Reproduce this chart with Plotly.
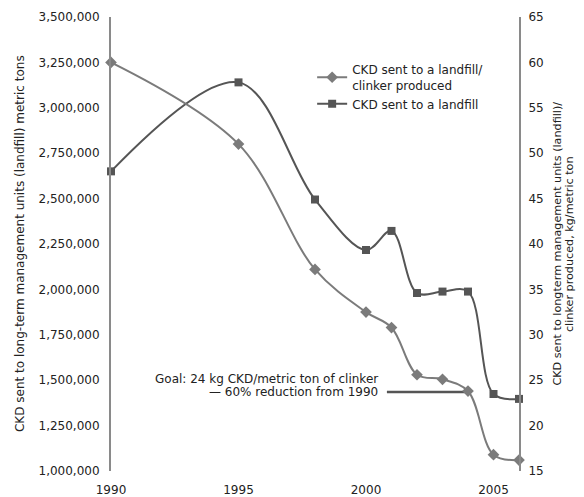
import plotly.graph_objects as go

years = [1990, 1995, 1998, 2000, 2001, 2002, 2003, 2004, 2005, 2006]
ckd_per_clinker = [60, 51, 37.2, 32.5, 30.8, 25.6, 25.1, 23.8, 16.8, 16.2]   # kg/metric ton (right axis)
ckd_landfill = [2650000, 3140000, 2495000, 2217000, 2322000, 1980000, 1988000, 1988000, 1424000, 1397000]  # metric tons (left axis)

left_ticks = [1000000, 1250000, 1500000, 1750000, 2000000, 2250000, 2500000, 2750000, 3000000, 3250000, 3500000]
right_ticks = [15, 20, 25, 30, 35, 40, 45, 50, 55, 60, 65]
x_ticks = [1990, 1995, 2000, 2005]

goal_line_value = 23.7
goal_year = 2004
goal_line_start = 2000.82
goal_text = ["Goal: 24 kg CKD/metric ton of clinker", "— 60% reduction from 1990"]

left_title = "CKD sent to long-term management units (landfill) metric tons"
right_title = ["CKD sent to longterm management units (landfill)/", "clinker produced, kg/metric ton"]

FONT = "DejaVu Sans, Verdana, sans-serif"
AX = "#8a8a8a"
C1 = "#7b7b7b"
C2 = "#555555"
TXT = "#222222"

fig = go.Figure()
fig.add_trace(go.Scatter(
    x=years, y=ckd_per_clinker, yaxis="y2", mode="lines+markers",
    name="CKD sent to a landfill/<br>clinker produced",
    line=dict(color=C1, width=2, shape="spline", smoothing=1.0),
    marker=dict(symbol="diamond", size=9, color=C1),
    cliponaxis=False,
))
fig.add_trace(go.Scatter(
    x=years, y=ckd_landfill, yaxis="y", mode="lines+markers",
    name="CKD sent to a landfill",
    line=dict(color=C2, width=2, shape="spline", smoothing=1.0),
    marker=dict(symbol="square", size=8, color=C2),
    cliponaxis=False,
))

fig.add_shape(type="line", xref="x", yref="y2", x0=goal_line_start, x1=goal_year,
              y0=goal_line_value, y1=goal_line_value, line=dict(color=C2, width=2.5), layer="below")
for i, t in enumerate(goal_text):
    fig.add_annotation(xref="x", yref="y2", x=goal_line_start - 0.27, y=goal_line_value,
                       text=t, showarrow=False, xanchor="right", yanchor="middle", align="right",
                       yshift=13 * (len(goal_text) - 1 - i),
                       font=dict(size=12, color=TXT, family=FONT))

fig.add_annotation(xref="paper", yref="paper", x=-0.223, y=0.5, xanchor="center", yanchor="middle",
                   text=left_title, textangle=-90, showarrow=False,
                   font=dict(size=12, color=TXT, family=FONT))
for i, t in enumerate(right_title):
    fig.add_annotation(xref="paper", yref="paper", x=1.092, y=0.5, xanchor="center", yanchor="middle",
                       xshift=12.5 * i, text=t, textangle=-90, showarrow=False,
                       font=dict(size=11.2, color=TXT, family=FONT))

# the page body adds an 8px margin, so the figure is sized and offset to compensate
fig.update_layout(
    width=576, height=489,
    margin=dict(l=103, r=65, t=9, b=26, autoexpand=False),
    paper_bgcolor="white", plot_bgcolor="white",
    font=dict(family=FONT, size=12, color=TXT),
    showlegend=True,
    legend=dict(x=0.493, y=0.916, xanchor="left", yanchor="top", bgcolor="rgba(0,0,0,0)",
                font=dict(size=12, color=TXT, family=FONT), tracegroupgap=4, itemwidth=30),
    xaxis=dict(range=[1990, 2006], tickvals=x_ticks, ticktext=[str(v) for v in x_ticks],
               showgrid=False, zeroline=False, showline=False, automargin=False,
               ticks="outside", ticklen=8, tickcolor="rgba(0,0,0,0)"),
    yaxis=dict(range=[1000000, 3500000], tickvals=left_ticks,
               ticktext=[f"{v:,}" for v in left_ticks], automargin=False,
               showgrid=False, zeroline=False, showline=True, linecolor=AX, linewidth=2,
               ticks="outside", ticklen=7, tickcolor="rgba(0,0,0,0)"),
    yaxis2=dict(range=[15, 65], tickvals=right_ticks, ticktext=[str(v) for v in right_ticks],
                overlaying="y", side="right", anchor="x", automargin=False,
                showgrid=False, zeroline=False, showline=True, linecolor=AX, linewidth=2,
                ticks="outside", ticklen=5, tickcolor="rgba(0,0,0,0)"),
)

fig.write_html("out.html")
